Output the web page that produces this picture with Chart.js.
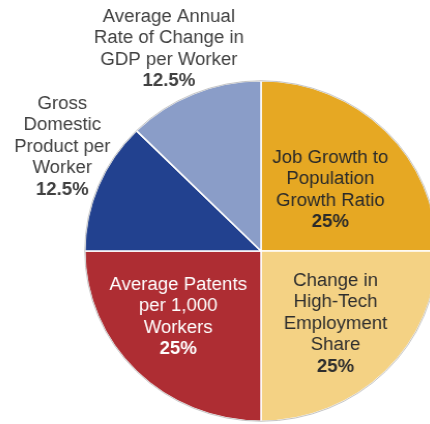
<!DOCTYPE html>
<html>
<head>
<meta charset="utf-8">
<script src="https://cdn.jsdelivr.net/npm/chart.js@4/dist/chart.umd.min.js"></script>
<style>
  html, body { margin: 0; padding: 0; background: #fff; overflow: hidden; width: 430px; height: 424px; }
  #wrap { position: absolute; left: 0; top: 0; width: 460px; height: 440px;
          transform: scaleX(1.035); transform-origin: 261px 251px; }
  canvas { display: block; }
</style>
</head>
<body>
<div id="wrap"><canvas id="pie" width="460" height="440"></canvas></div>
<script>
// Weighting of the index components (percent)
const categories = [
  ["Job Growth to", "Population", "Growth Ratio"],
  ["Change in", "High-Tech", "Employment", "Share"],
  ["Average Patents", "per 1,000", "Workers"],
  ["Gross", "Domestic", "Product per", "Worker"],
  ["Average Annual", "Rate of Change in", "GDP per Worker"]
];
const weights = [25, 25, 25, 12.5, 12.5];
const sliceColors = ["#E6A823", "#F4D284", "#AE2D33", "#22418F", "#8A9DC8"];
const textColors = ["#2a2a2a", "#2e2e2e", "#ffffff", "#404040", "#404040"];
// Label block placement relative to the pie centre (px)
const labelOffsets = [[67, -61], [72, 73], [-80, 66], [-192, -104], [-89, -202]];

const LINE_H = 21.5;
const FONT = '"Liberation Sans", Arial, Helvetica, sans-serif';

const sliceLabels = {
  id: 'sliceLabels',
  afterDatasetsDraw(chart) {
    const meta = chart.getDatasetMeta(0);
    const ctx = chart.ctx;
    const first = meta.data[0];
    // faint outline around the whole pie
    ctx.save();
    ctx.beginPath();
    ctx.arc(first.x, first.y, first.outerRadius, 0, Math.PI * 2);
    ctx.strokeStyle = 'rgba(190,190,190,0.9)';
    ctx.lineWidth = 1;
    ctx.stroke();
    ctx.restore();

    meta.data.forEach((arc, i) => {
      const lines = categories[i];
      const value = chart.data.datasets[0].data[i];
      const all = lines.concat([value + '%']);
      const cx = arc.x + labelOffsets[i][0];
      const cy = arc.y + labelOffsets[i][1];
      const top = cy - (all.length - 1) * LINE_H / 2;
      ctx.save();
      ctx.textAlign = 'center';
      ctx.textBaseline = 'middle';
      ctx.fillStyle = textColors[i];
      all.forEach((t, k) => {
        const bold = k === all.length - 1;
        ctx.font = (bold ? 'bold ' : '') + '18px ' + FONT;
        ctx.fillText(t, cx, top + k * LINE_H);
      });
      ctx.restore();
    });
  }
};

new Chart(document.getElementById('pie'), {
  type: 'pie',
  data: {
    labels: categories.map(l => l.join(' ')),
    datasets: [{
      data: weights,
      backgroundColor: sliceColors,
      borderColor: '#ffffff',
      borderWidth: 1.5,
      hoverOffset: 0
    }]
  },
  options: {
    responsive: false,
    animation: false,
    devicePixelRatio: 1,
    layout: { padding: { left: 90, top: 80, right: 28, bottom: 18 } },
    plugins: {
      legend: { display: false },
      tooltip: { enabled: false }
    }
  },
  plugins: [sliceLabels]
});
</script>
</body>
</html>
